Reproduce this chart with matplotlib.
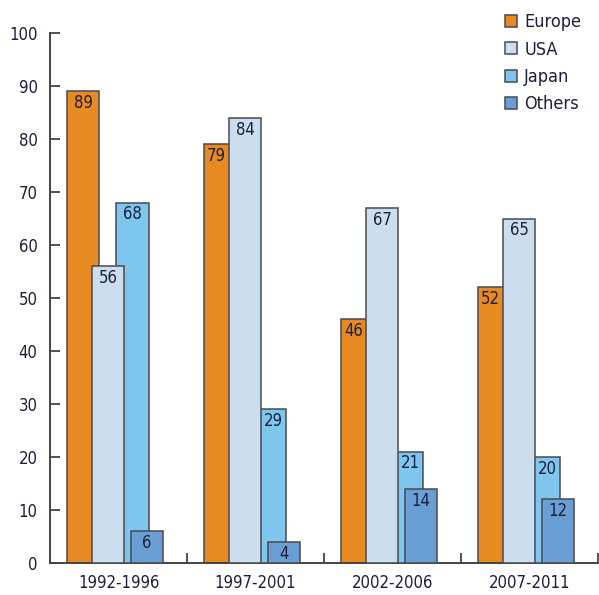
import matplotlib
matplotlib.use("Agg")
import matplotlib.pyplot as plt
import numpy as np

plt.rcParams['font.family'] = ['DejaVu Sans']
plt.rcParams['font.stretch'] = 'condensed'

periods = ['1992-1996', '1997-2001', '2002-2006', '2007-2011']
regions = ['Europe', 'USA', 'Japan', 'Others']
europe = [89, 79, 46, 52]
usa = [56, 84, 67, 65]
japan = [68, 29, 21, 20]
others = [6, 4, 14, 12]

colors = {'Europe': '#E88A22', 'USA': '#CCDDEF', 'Japan': '#7FC6EE', 'Others': '#6A9FD5'}
edge = '#4a4a50'
txt = '#1c1f3c'

# bar placement inside each group (group width = 1)
offset = {'Europe': 0.125, 'USA': 0.308, 'Japan': 0.485, 'Others': 0.588}
width = {'Europe': 0.234, 'USA': 0.232, 'Japan': 0.234, 'Others': 0.238}
zord = {'Europe': 2, 'Japan': 3, 'USA': 4, 'Others': 5}

fig = plt.figure(figsize=(5.99, 5.95), dpi=100)
ax = fig.add_axes([50 / 599, 1 - 563 / 595, 548 / 599, 530 / 595])

series = dict(zip(regions, [europe, usa, japan, others]))
x = np.arange(len(periods))
for r in regions:
    ax.bar(x + offset[r], series[r], width=width[r], align='edge',
           color=colors[r], edgecolor=edge, linewidth=1.1,
           zorder=zord[r], label=r)

# value labels, centred on the visible part of each bar
for i in range(len(periods)):
    e, u, j, o = europe[i], usa[i], japan[i], others[i]
    el, ul, jl, ol = (i + offset[k] for k in regions)
    er = el + width['Europe']
    ur = ul + width['USA']
    jr = jl + width['Japan']
    orr = ol + width['Others']
    ex = (el + er) / 2 if e > u else (el + ul) / 2
    jx = (jl + jr) / 2 if j > u else (ur + jr) / 2
    for xx, v in [(ex, e), ((ul + ur) / 2, u), (jx, j), ((ol + orr) / 2, o)]:
        ax.annotate(str(v), (xx, v), xytext=(0, -2), textcoords='offset points',
                    ha='center', va='top', fontsize=12, color=txt, zorder=10)

ax.set_xlim(0, 4)
ax.set_ylim(0, 100)
ax.set_yticks(range(0, 101, 10))
ax.tick_params(axis='y', direction='in', length=7, width=1.3, color='#444444',
               labelsize=12, labelcolor=txt, pad=9)
ax.set_xticks([1, 2, 3, 4])
ax.set_xticklabels([])
ax.tick_params(axis='x', which='major', direction='in', length=7, width=1.3, color='#444444')
ax.set_xticks(x + 0.5, minor=True)
ax.set_xticklabels(periods, minor=True)
ax.tick_params(axis='x', which='minor', length=0, labelsize=12, labelcolor=txt, pad=8)

for s in ['top', 'right']:
    ax.spines[s].set_visible(False)
for s in ['left', 'bottom']:
    ax.spines[s].set_color('#444444')
    ax.spines[s].set_linewidth(1.4)

fig.legend(loc='upper left', bbox_to_anchor=(489 / 599, 1 + 3 / 595), frameon=False,
           fontsize=13, handlelength=0.65, handleheight=0.65, handletextpad=0.4,
           labelspacing=0.52, labelcolor=txt)

fig.savefig('out.png', dpi=100)
